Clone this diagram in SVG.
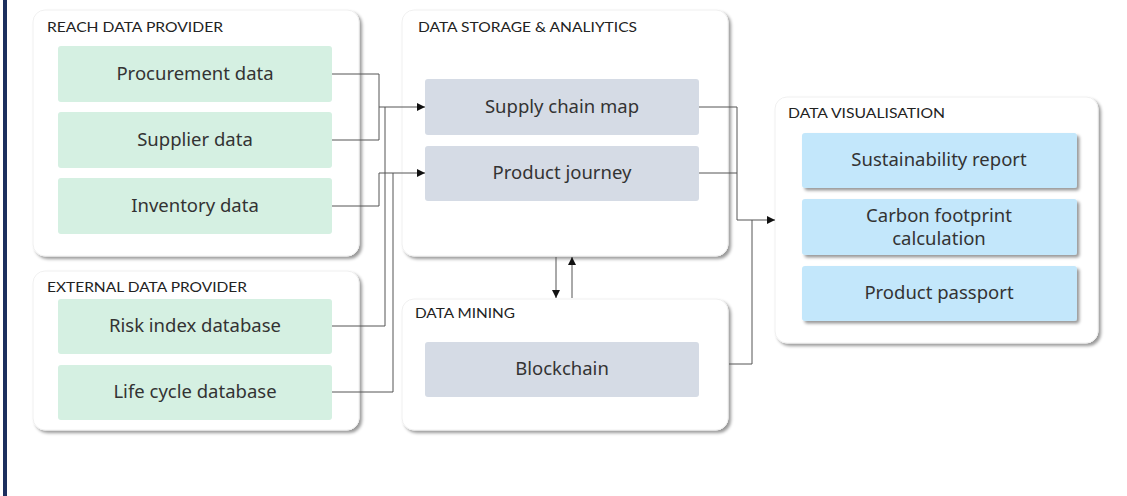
<svg xmlns="http://www.w3.org/2000/svg" width="1127" height="496" viewBox="0 0 1127 496">
  <defs>
    <filter id="shadow" x="-5%" y="-5%" width="115%" height="120%">
      <feDropShadow dx="2.5" dy="2.5" stdDeviation="1.6" flood-color="#000" flood-opacity="0.4"/>
    </filter>
    <marker id="arrow" viewBox="0 0 10 10" refX="10" refY="5" markerWidth="8" markerHeight="8" markerUnits="userSpaceOnUse" orient="auto">
      <path d="M0,0 L10,5 L0,10 z" fill="#111"/>
    </marker>
    <style>
      .panel { fill: #ffffff; stroke: #f0f0f0; stroke-width: 1; filter: url(#shadow); }
      .title { font-family: Lato, "Liberation Sans", sans-serif; font-size: 14px; fill: #222; }
      .green { fill: #d5f0e2; }
      .grey { fill: #d5dbe5; }
      .blue { fill: #c3e7fb; filter: url(#shadow); }
      .label { font-family: "Noto Sans", "Liberation Sans", sans-serif; font-size: 18.5px; fill: #333; text-anchor: middle; }
      .wire { fill: none; stroke: #555; stroke-width: 1; }
    </style>
  </defs>

  <rect width="1127" height="496" fill="#ffffff"/>
  <!-- left accent bar -->
  <rect x="3" y="0" width="4" height="496" fill="#1c2f5e"/>

  <!-- REACH DATA PROVIDER -->
  <g id="reach">
    <rect class="panel" x="33" y="10" width="326" height="246" rx="12"/>
    <text class="title" x="47" y="32" textLength="176" lengthAdjust="spacingAndGlyphs">REACH DATA PROVIDER</text>
    <g id="procurement">
      <rect class="green" x="58" y="46" width="274" height="56" rx="3"/>
      <text class="label" x="195" y="80">Procurement data</text>
    </g>
    <g id="supplier">
      <rect class="green" x="58" y="112" width="274" height="56" rx="3"/>
      <text class="label" x="195" y="146">Supplier data</text>
    </g>
    <g id="inventory">
      <rect class="green" x="58" y="178" width="274" height="56" rx="3"/>
      <text class="label" x="195" y="212">Inventory data</text>
    </g>
  </g>

  <!-- EXTERNAL DATA PROVIDER -->
  <g id="external">
    <rect class="panel" x="33" y="271" width="326" height="159" rx="12"/>
    <text class="title" x="47" y="292" textLength="200" lengthAdjust="spacingAndGlyphs">EXTERNAL DATA PROVIDER</text>
    <g id="risk">
      <rect class="green" x="58" y="299" width="274" height="55" rx="3"/>
      <text class="label" x="195" y="332">Risk index database</text>
    </g>
    <g id="lifecycle">
      <rect class="green" x="58" y="365" width="274" height="55" rx="3"/>
      <text class="label" x="195" y="398">Life cycle database</text>
    </g>
  </g>

  <!-- DATA STORAGE & ANALIYTICS -->
  <g id="storage">
    <rect class="panel" x="402" y="10" width="326" height="246" rx="12"/>
    <text class="title" x="418" y="32" textLength="219" lengthAdjust="spacingAndGlyphs">DATA STORAGE &amp; ANALIYTICS</text>
    <g id="supplychain">
      <rect class="grey" x="425" y="79" width="274" height="56" rx="3"/>
      <text class="label" x="562" y="113">Supply chain map</text>
    </g>
    <g id="journey">
      <rect class="grey" x="425" y="146" width="274" height="55" rx="3"/>
      <text class="label" x="562" y="179">Product journey</text>
    </g>
  </g>

  <!-- DATA MINING -->
  <g id="mining">
    <rect class="panel" x="402" y="299" width="326" height="131" rx="12"/>
    <text class="title" x="415" y="318" textLength="100" lengthAdjust="spacingAndGlyphs">DATA MINING</text>
    <g id="blockchain">
      <rect class="grey" x="425" y="342" width="274" height="55" rx="3"/>
      <text class="label" x="562" y="375">Blockchain</text>
    </g>
  </g>

  <!-- DATA VISUALISATION -->
  <g id="visualisation">
    <rect class="panel" x="775" y="97" width="323" height="246" rx="12"/>
    <text class="title" x="788" y="118" textLength="157" lengthAdjust="spacingAndGlyphs">DATA VISUALISATION</text>
    <g id="sustainability">
      <rect class="blue" x="802" y="133" width="275" height="55" rx="3"/>
      <text class="label" x="939" y="166">Sustainability report</text>
    </g>
    <g id="carbon">
      <rect class="blue" x="802" y="199" width="275" height="56" rx="3"/>
      <text class="label" x="939" y="222">Carbon footprint</text>
      <text class="label" x="939" y="245">calculation</text>
    </g>
    <g id="passport">
      <rect class="blue" x="802" y="266" width="275" height="55" rx="3"/>
      <text class="label" x="939" y="299">Product passport</text>
    </g>
  </g>

  <!-- connectors -->
  <g id="connectors">
    <!-- procurement + supplier merge into supply chain map -->
    <path class="wire" d="M332,74 H379 V140 M332,140 H379"/>
    <path class="wire" d="M379,107 H425" marker-end="url(#arrow)"/>
    <!-- risk index into supply chain map -->
    <path class="wire" d="M332,326 H385 V107"/>
    <!-- inventory into product journey -->
    <path class="wire" d="M332,206 H379 V173 H425" marker-end="url(#arrow)"/>
    <!-- life cycle into product journey -->
    <path class="wire" d="M332,392 H393 V173"/>
    <!-- storage outputs to visualisation -->
    <path class="wire" d="M699,107 H737 V220 M699,173 H737"/>
    <path class="wire" d="M737,220 H775" marker-end="url(#arrow)"/>
    <!-- mining output to visualisation -->
    <path class="wire" d="M729,364 H752 V220"/>
    <!-- storage <-> mining -->
    <path class="wire" d="M556,257 V298" marker-end="url(#arrow)"/>
    <path class="wire" d="M572,298 V257" marker-end="url(#arrow)"/>
  </g>
</svg>
